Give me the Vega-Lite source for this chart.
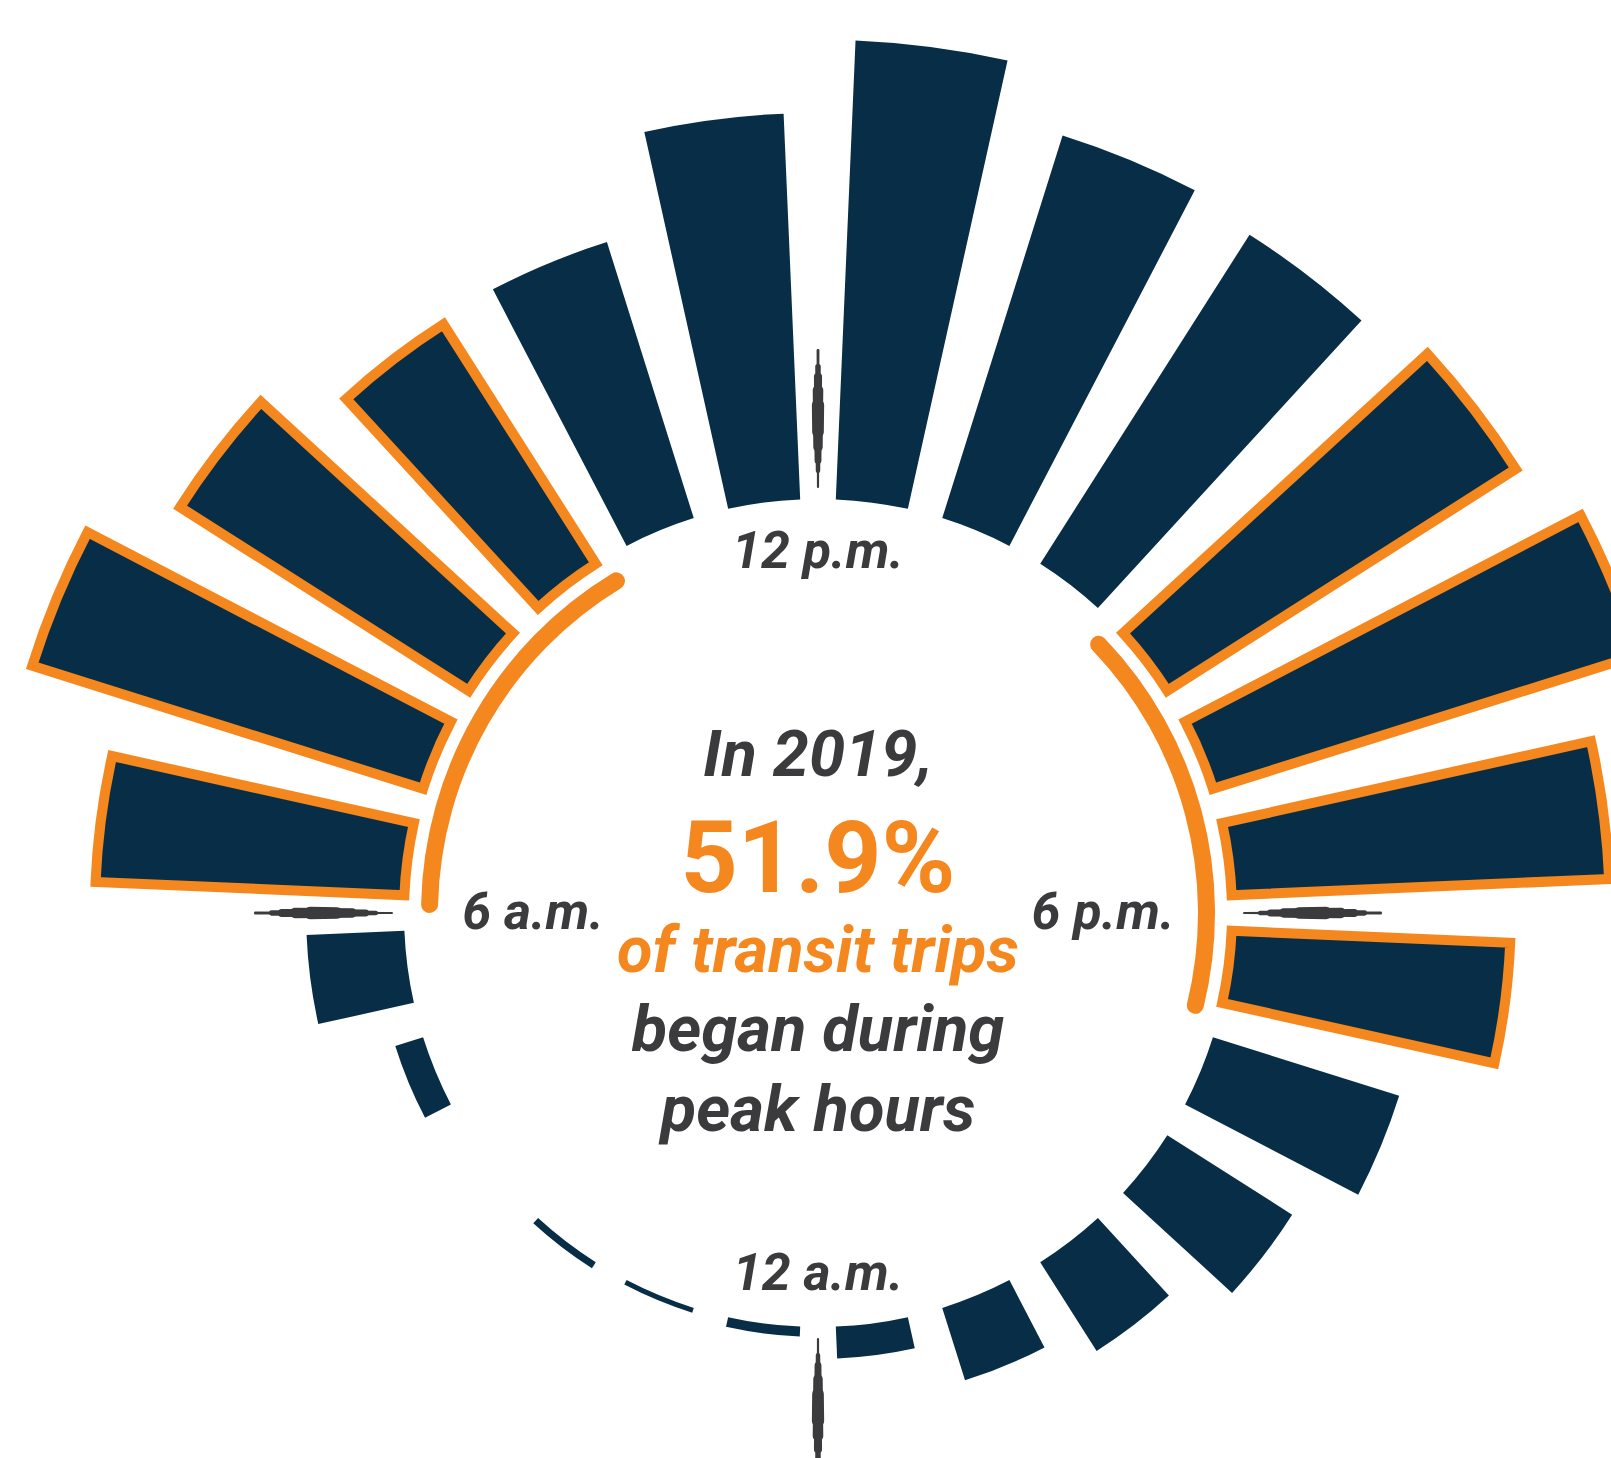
{
  "$schema": "https://vega.github.io/schema/vega-lite/v6.json",
  "width": 1586,
  "height": 1092,
  "padding": {"left": 25, "top": 367, "right": 0, "bottom": 0},
  "autosize": {"type": "none"},
  "background": "#ffffff",
  "config": {"view": {"stroke": null}},
  "datasets": {
    "hours": [
      {"hour": "12–1 a.m.", "start": 0, "end": 1, "share": 0.18, "peak": false},
      {"hour": "1–2 a.m.", "start": 1, "end": 2, "share": 0.09, "peak": false},
      {"hour": "2–3 a.m.", "start": 2, "end": 3, "share": 0.13, "peak": false},
      {"hour": "3–4 a.m.", "start": 3, "end": 4, "share": 0.0, "peak": false},
      {"hour": "4–5 a.m.", "start": 4, "end": 5, "share": 0.53, "peak": false},
      {"hour": "5–6 a.m.", "start": 5, "end": 6, "share": 1.78, "peak": false},
      {"hour": "6–7 a.m.", "start": 6, "end": 7, "share": 5.62, "peak": true},
      {"hour": "7–8 a.m.", "start": 7, "end": 8, "share": 7.45, "peak": true},
      {"hour": "8–9 a.m.", "start": 8, "end": 9, "share": 6.22, "peak": true},
      {"hour": "9–10 a.m.", "start": 9, "end": 10, "share": 5.16, "peak": true},
      {"hour": "10–11 a.m.", "start": 10, "end": 11, "share": 5.26, "peak": false},
      {"hour": "11 a.m.–12 p.m.", "start": 11, "end": 12, "share": 7.02, "peak": false},
      {"hour": "12–1 p.m.", "start": 12, "end": 13, "share": 8.35, "peak": false},
      {"hour": "1–2 p.m.", "start": 13, "end": 14, "share": 7.29, "peak": false},
      {"hour": "2–3 p.m.", "start": 14, "end": 15, "share": 7.09, "peak": false},
      {"hour": "3–4 p.m.", "start": 15, "end": 16, "share": 7.51, "peak": true},
      {"hour": "4–5 p.m.", "start": 16, "end": 17, "share": 8.11, "peak": true},
      {"hour": "5–6 p.m.", "start": 17, "end": 18, "share": 6.87, "peak": true},
      {"hour": "6–7 p.m.", "start": 18, "end": 19, "share": 5.07, "peak": true},
      {"hour": "7–8 p.m.", "start": 19, "end": 20, "share": 3.55, "peak": false},
      {"hour": "8–9 p.m.", "start": 20, "end": 21, "share": 2.69, "peak": false},
      {"hour": "9–10 p.m.", "start": 21, "end": 22, "share": 1.91, "peak": false},
      {"hour": "10–11 p.m.", "start": 22, "end": 23, "share": 1.38, "peak": false},
      {"hour": "11 p.m.–12 a.m.", "start": 23, "end": 24, "share": 0.58, "peak": false}
    ],
    "peaks": [
      {"period": "morning peak", "start": 6, "end": 10},
      {"period": "evening peak", "start": 15, "end": 19}
    ],
    "markers": [
      {"hour": 0},
      {"hour": 6},
      {"hour": 12},
      {"hour": 18}
    ],
    "vlabels": [
      {"hour": 12, "label": "12 p.m."},
      {"hour": 0, "label": "12 a.m."}
    ],
    "hlabels": [
      {"hour": 6, "label": "6 a.m."},
      {"hour": 18, "label": "6 p.m."}
    ]
  },
  "layer": [
    {
      "data": {"name": "hours"},
      "mark": {
        "type": "arc",
        "thetaOffset": 0.043,
        "theta2Offset": -0.043,
        "strokeWidth": 10,
        "strokeJoin": "miter"
      },
      "encoding": {
        "theta": {"field": "start", "type": "quantitative", "stack": null, "scale": {"type": "linear", "domain": [0, 24], "range": [3.14159265, 9.42477796]}},
        "theta2": {"field": "end"},
        "radius": {"field": "share", "type": "quantitative", "scale": {"type": "linear", "zero": false, "domain": [0, 10], "range": [414, 964]}},
        "radius2": {"value": 414},
        "color": {"value": "#072E46"},
        "stroke": {"condition": {"test": "datum.peak", "value": "#F5871F"}, "value": null},
        "tooltip": [{"field": "hour"}, {"field": "share"}]
      }
    },
    {
      "data": {"name": "peaks"},
      "mark": {"type": "arc", "cornerRadius": 8.5, "color": "#F5871F"},
      "encoding": {
        "theta": {"field": "start", "type": "quantitative", "stack": null, "scale": {"type": "linear", "domain": [0, 24], "range": [3.14159265, 9.42477796]}},
        "theta2": {"field": "end"},
        "radius": {"value": 397},
        "radius2": {"value": 380}
      }
    },
    {
      "data": {"name": "markers"},
      "mark": {"type": "arc", "cornerRadius": 1.25, "color": "#3B3B3D", "thetaOffset": -0.00253, "theta2Offset": 0.00253},
      "encoding": {
        "theta": {"field": "hour", "type": "quantitative", "stack": null, "scale": {"type": "linear", "domain": [0, 24], "range": [3.14159265, 9.42477796]}},
        "theta2": {"field": "hour"},
        "radius": {"value": 564},
        "radius2": {"value": 425}
      }
    },
    {
      "data": {"name": "markers"},
      "mark": {"type": "arc", "cornerRadius": 2.5, "color": "#3B3B3D", "thetaOffset": -0.00506, "theta2Offset": 0.00506},
      "encoding": {
        "theta": {"field": "hour", "type": "quantitative", "stack": null, "scale": {"type": "linear", "domain": [0, 24], "range": [3.14159265, 9.42477796]}},
        "theta2": {"field": "hour"},
        "radius": {"value": 549},
        "radius2": {"value": 440}
      }
    },
    {
      "data": {"name": "markers"},
      "mark": {"type": "arc", "cornerRadius": 3.75, "color": "#3B3B3D", "thetaOffset": -0.00758, "theta2Offset": 0.00758},
      "encoding": {
        "theta": {"field": "hour", "type": "quantitative", "stack": null, "scale": {"type": "linear", "domain": [0, 24], "range": [3.14159265, 9.42477796]}},
        "theta2": {"field": "hour"},
        "radius": {"value": 540},
        "radius2": {"value": 449}
      }
    },
    {
      "data": {"name": "markers"},
      "mark": {"type": "arc", "cornerRadius": 5, "color": "#3B3B3D", "thetaOffset": -0.0101, "theta2Offset": 0.0101},
      "encoding": {
        "theta": {"field": "hour", "type": "quantitative", "stack": null, "scale": {"type": "linear", "domain": [0, 24], "range": [3.14159265, 9.42477796]}},
        "theta2": {"field": "hour"},
        "radius": {"value": 528},
        "radius2": {"value": 461}
      }
    },
    {
      "data": {"name": "markers"},
      "mark": {"type": "arc", "cornerRadius": 6, "color": "#3B3B3D", "thetaOffset": -0.0121, "theta2Offset": 0.0121},
      "encoding": {
        "theta": {"field": "hour", "type": "quantitative", "stack": null, "scale": {"type": "linear", "domain": [0, 24], "range": [3.14159265, 9.42477796]}},
        "theta2": {"field": "hour"},
        "radius": {"value": 514},
        "radius2": {"value": 475}
      }
    },
    {
      "data": {"name": "vlabels"},
      "mark": {"type": "text", "radius": 361, "font": "Roboto", "fontStyle": "italic", "fontWeight": "bold", "fontSize": 52, "align": "center", "baseline": "middle", "color": "#3B3B3D"},
      "encoding": {
        "theta": {"field": "hour", "type": "quantitative", "stack": null, "scale": {"type": "linear", "domain": [0, 24], "range": [3.14159265, 9.42477796]}},
        "text": {"field": "label"}
      }
    },
    {
      "data": {"name": "hlabels"},
      "mark": {"type": "text", "radius": 285, "font": "Roboto", "fontStyle": "italic", "fontWeight": "bold", "fontSize": 52, "align": "center", "baseline": "middle", "color": "#3B3B3D"},
      "encoding": {
        "theta": {"field": "hour", "type": "quantitative", "stack": null, "scale": {"type": "linear", "domain": [0, 24], "range": [3.14159265, 9.42477796]}},
        "text": {"field": "label"}
      }
    },
    {
      "data": {"values": [{"line": "In 2019,"}]},
      "mark": {"type": "text", "dy": -137, "font": "Roboto", "fontStyle": "italic", "fontWeight": "bold", "fontSize": 65, "align": "center", "baseline": "alphabetic", "color": "#3B3B3D"},
      "encoding": {"text": {"field": "line"}}
    },
    {
      "data": {"values": [{"line": "51.9%"}]},
      "mark": {"type": "text", "dy": -21, "font": "Roboto", "fontWeight": "bold", "fontSize": 100, "align": "center", "baseline": "alphabetic", "color": "#F5871F"},
      "encoding": {"text": {"field": "line"}}
    },
    {
      "data": {"values": [{"line": "of transit trips"}]},
      "mark": {"type": "text", "dy": 59, "font": "Roboto", "fontStyle": "italic", "fontWeight": "bold", "fontSize": 65, "align": "center", "baseline": "alphabetic", "color": "#F5871F"},
      "encoding": {"text": {"field": "line"}}
    },
    {
      "data": {"values": [{"line": "began during"}]},
      "mark": {"type": "text", "dy": 138, "font": "Roboto", "fontStyle": "italic", "fontWeight": "bold", "fontSize": 65, "align": "center", "baseline": "alphabetic", "color": "#3B3B3D"},
      "encoding": {"text": {"field": "line"}}
    },
    {
      "data": {"values": [{"line": "peak hours"}]},
      "mark": {"type": "text", "dy": 218, "font": "Roboto", "fontStyle": "italic", "fontWeight": "bold", "fontSize": 65, "align": "center", "baseline": "alphabetic", "color": "#3B3B3D"},
      "encoding": {"text": {"field": "line"}}
    }
  ]
}
